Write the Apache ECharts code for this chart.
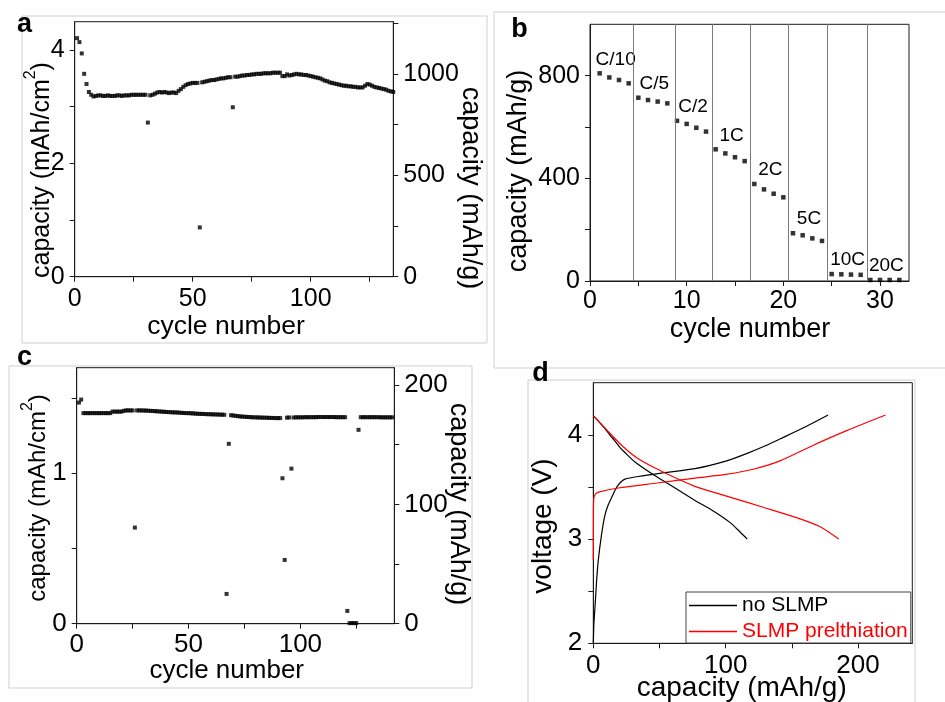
<!DOCTYPE html>
<html><head><meta charset="utf-8">
<script src="https://cdn.jsdelivr.net/npm/echarts@6.0.0/dist/echarts.min.js"></script>
<style>html,body{margin:0;padding:0;background:#fff}#chart{width:945px;height:702px}</style>
</head><body><div id="chart"></div>
<script>
const FONT = '"Liberation Sans", Arial, Helvetica, sans-serif';

// ---------- Panel a : areal capacity per cycle (cycle = index + 1) ----------
const capA = [
 4.21,4.14,3.94,3.58,3.40,3.26,3.21,3.18,3.19,3.20,
 3.20,3.19,3.19,3.20,3.19,3.19,3.19,3.20,3.20,3.19,
 3.20,3.20,3.20,3.21,3.21,3.21,3.21,3.21,3.21,3.21,
 2.72,3.20,3.21,3.23,3.25,3.26,3.25,3.26,3.25,3.24,
 3.25,3.25,3.24,3.28,3.31,3.35,3.38,3.40,3.41,3.42,
 3.42,3.42,0.87,3.43,3.44,3.45,3.46,3.47,3.47,3.48,
 3.49,3.50,3.50,3.51,3.52,3.52,2.99,3.53,3.53,3.54,
 3.55,3.55,3.56,3.56,3.57,3.57,3.58,3.58,3.58,3.59,
 3.59,3.59,3.59,3.60,3.60,3.60,3.60,3.54,3.54,3.57,
 3.55,3.56,3.57,3.58,3.57,3.57,3.56,3.56,3.55,3.54,
 3.53,3.52,3.51,3.50,3.48,3.46,3.45,3.43,3.42,3.41,
 3.40,3.39,3.38,3.37,3.37,3.36,3.36,3.35,3.35,3.34,
 3.34,3.34,3.37,3.40,3.39,3.37,3.35,3.34,3.33,3.32,
 3.31,3.30,3.28,3.27,3.26
];
const aXTicks = [0,25,50,75,100,125];
const aXLabels = [0,50,100];
const aYTicks = [0,1,2,3,4];
const aYLabels = [0,2,4];
const aY2Ticks = [0,250,500,750,1000,1250];
const aY2Labels = [0,500,1000];

// ---------- Panel b : rate capability (cycle = index + 1, 4 cycles per rate) ----------
const capB = [
 809,793,783,770,
 714,705,699,692,
 624,612,597,582,
 513,497,482,467,
 378,357,340,326,
 186,178,166,156,
 27,26,25,24,
 4,4,4,4
];
const rateLabels = ['C/10','C/5','C/2','1C','2C','5C','10C','20C'];
const rateDividers = [4.5,8.8,12.6,16.6,20.5,24.5,28.7];
const bXTicks = [0,5,10,15,20,25,30];
const bXLabels = [0,10,20,30];
const bYTicks = [0,200,400,600,800];
const bYLabels = [0,400,800];

// ---------- Panel c : areal capacity per cycle (cycle = index + 1) ----------
const capC = [
 1.47,1.49,1.40,1.40,1.40,1.40,1.40,1.40,1.40,1.40,
 1.40,1.40,1.40,1.40,1.40,1.41,1.41,1.41,1.41,1.41,
 1.415,1.418,1.418,1.418,1.418,0.639,1.418,1.418,1.418,1.417,
 1.417,1.416,1.415,1.414,1.413,1.412,1.411,1.410,1.409,1.408,
 1.407,1.406,1.405,1.405,1.404,1.403,1.402,1.401,1.400,1.400,
 1.399,1.398,1.397,1.396,1.395,1.395,1.394,1.393,1.393,1.392,
 1.392,1.391,1.391,1.390,1.390,1.389,0.198,1.196,1.386,1.384,
 1.382,1.380,1.378,1.377,1.376,1.375,1.374,1.373,1.372,1.372,
 1.371,1.371,1.370,1.370,1.369,1.369,1.368,1.368,1.367,1.367,
 1.367,0.967,0.424,1.370,1.371,1.031,1.371,1.372,1.372,1.372,
 1.372,1.373,1.373,1.373,1.373,1.373,1.373,1.374,1.374,1.374,
 1.374,1.374,1.374,1.374,1.374,1.373,1.373,1.373,1.373,1.373,
 0.085,0.004,0.004,0.004,0.004,1.289,1.373,1.373,1.373,1.373,
 1.373,1.373,1.373,1.373,1.373,1.372,1.372,1.372,1.372,1.372,
 1.372
];
const cXTicks = [0,25,50,75,100,125];
const cXLabels = [0,50,100];
const cYTicks = [0,0.5,1,1.5];
const cYLabels = [0,1];
const cY2Ticks = [0,50,100,150,200];
const cY2Labels = [0,100,200];

// ---------- Panel d : voltage profiles [capacity, voltage] ----------
const noSlmpCharge = [[0,2.0],[0.5,2.2],[1.3,2.35],[2.5,2.6],[3.8,2.8],[6.3,3.05],[8.8,3.23],[11,3.32],[13.9,3.40],[16.5,3.47],[18.9,3.52],[21.5,3.555],[23.9,3.575],[34,3.60],[50,3.63],[76.8,3.675],[100.7,3.75],[115.8,3.82],[130,3.895],[141,3.96],[160,4.075],[177.4,4.19]];
const noSlmpDischarge = [[0,4.185],[8.8,4.06],[13,3.99],[16.4,3.94],[20,3.88],[23.9,3.83],[31.5,3.74],[44,3.63],[56.6,3.53],[76.8,3.37],[90.6,3.27],[103.2,3.16],[110.7,3.07],[116.3,3.0]];
const slmpCharge = [[0,2.8],[0.1,3.2],[0.3,3.38],[1.5,3.43],[4,3.45],[18.9,3.49],[50,3.54],[76.8,3.585],[100,3.62],[120.8,3.67],[141,3.75],[166.2,3.90],[191.4,4.04],[220.8,4.19]];
const slmpDischarge = [[0,4.185],[10,4.05],[21.4,3.90],[34,3.77],[51.6,3.65],[76.8,3.505],[90.6,3.45],[105.7,3.393],[128.3,3.305],[153.5,3.205],[171,3.12],[185.4,3.0]];
const dXTicks = [0,50,100,150,200];
const dXLabels = [0,100,200];
const dYTicks = [2,2.5,3,3.5,4];
const dYLabels = [2,3,4];
const legendNames = ['no SLMP','SLMP prelthiation'];

// ---------- helpers ----------
const AX = '#1a1a1a';
function axis(gridIndex, position, min, max, ticks, labels, fontSize, margin) {
  return {
    type: 'value', gridIndex, position, min, max,
    axisLine: {show: true, onZero: false, lineStyle: {color: AX, width: 1}},
    axisTick: {show: true, inside: false, length: 5, customValues: ticks, lineStyle: {color: AX, width: 1}},
    axisLabel: {show: true, customValues: labels, margin, color: '#000', fontSize, fontFamily: FONT,
                formatter: v => String(v)},
    splitLine: {show: false}, minorTick: {show: false}, minorSplitLine: {show: false}
  };
}
function gridBox(left, top, width, height) {
  return {left, top, width, height, show: true, borderColor: AX, borderWidth: 1,
          backgroundColor: 'transparent', containLabel: false, outerBoundsMode: 'none'};
}
function txt(x, y, text, fontSize, rotation, weight) {
  return {type: 'text', x, y, rotation: rotation || 0, silent: true,
    style: {text, fontSize, fontWeight: weight || 'normal', fontFamily: FONT, fill: '#000',
            align: 'center', verticalAlign: 'middle'}};
}
function supTxt(x, y, base, sup, tail, fontSize, rotation) {
  return {type: 'text', x, y, rotation, silent: true,
    style: {text: '{n|' + base + '}{s|' + sup + '}{n|' + tail + '}', align: 'center', verticalAlign: 'middle',
      rich: {n: {fontSize, fontFamily: FONT, fill: '#000', lineHeight: fontSize + 13},
             s: {fontSize: 16, fontFamily: FONT, fill: '#000', verticalAlign: 'top', lineHeight: 16}}}};
}
function frame(x, y, w, h) {
  return {type: 'rect', silent: true, shape: {x, y, width: w, height: h},
          style: {fill: 'none', stroke: '#cfcfcf', lineWidth: 1}, z: -1};
}
function curve(name, data, color) {
  return {type: 'line', name, xAxisIndex: 3, yAxisIndex: 5, data, symbol: 'none', silent: true,
          smooth: 0.25, lineStyle: {color, width: 1.2}, itemStyle: {color}};
}

const chart = echarts.init(document.getElementById('chart'), null, {renderer: 'canvas'});
chart.setOption({
  animation: false,
  backgroundColor: '#fff',
  textStyle: {fontFamily: FONT},
  grid: [
    gridBox(74.7, 21.7, 318.6, 255),
    gridBox(590, 24.3, 319, 256.7),
    gridBox(76.7, 367.7, 317.6, 256),
    gridBox(593.3, 382.7, 319, 260.6)
  ],
  xAxis: [
    axis(0, 'bottom', 0, 135, aXTicks, aXLabels, 25, 10),
    axis(1, 'bottom', 0, 33, bXTicks, bXLabels, 25, 8),
    axis(2, 'bottom', 0, 142, cXTicks, cXLabels, 26, 8),
    axis(3, 'bottom', 0, 241, dXTicks, dXLabels, 26, 10)
  ],
  yAxis: [
    axis(0, 'left', 0, 4.5, aYTicks, aYLabels, 25, 10),
    axis(0, 'right', 0, 1258, aY2Ticks, aY2Labels, 25, 10),
    axis(1, 'left', 0, 1000, bYTicks, bYLabels, 25, 10),
    axis(2, 'left', 0, 1.702, cYTicks, cYLabels, 26, 10),
    axis(2, 'right', 0, 214.5, cY2Ticks, cY2Labels, 26, 10),
    axis(3, 'left', 2, 4.5, dYTicks, dYLabels, 26, 11)
  ],
  legend: {
    data: [
      {name: legendNames[0], textStyle: {color: '#000'}},
      {name: legendNames[1], textStyle: {color: '#ff0000'}}
    ],
    icon: 'rect',
    orient: 'vertical', left: 686, top: 592, itemWidth: 48, itemHeight: 1.3, itemGap: 5,
    padding: [3, 3, 1, 3], borderColor: '#444', borderWidth: 1, backgroundColor: '#fff',
    selectedMode: false, textStyle: {fontSize: 21, fontFamily: FONT, lineHeight: 21}
  },
  series: [
    {type: 'scatter', xAxisIndex: 0, yAxisIndex: 0, symbol: 'rect', symbolSize: 4, silent: true,
     itemStyle: {color: '#000'}, data: capA.map((v, i) => [i + 1, v])},
    {type: 'scatter', xAxisIndex: 1, yAxisIndex: 2, symbol: 'rect', symbolSize: 4.5, silent: true,
     itemStyle: {color: '#000'},
     data: capB.map((v, i) => i % 4 === 0
        ? {value: [i + 1, v], label: {show: true, formatter: rateLabels[i / 4], position: 'inside', offset: [16, -14],
            fontSize: 19, color: '#000', textBorderWidth: 0, opacity: 1, fontFamily: FONT}}
        : [i + 1, v]),
     markLine: {silent: true, symbol: ['none', 'none'], label: {show: false},
       lineStyle: {color: '#7a7a7a', width: 1, type: 'solid'},
       data: rateDividers.map(x => ({xAxis: x}))}},
    {type: 'scatter', xAxisIndex: 2, yAxisIndex: 3, symbol: 'rect', symbolSize: 4, silent: true,
     itemStyle: {color: '#000'}, data: capC.map((v, i) => [i + 1, v])},
    curve(legendNames[0], noSlmpCharge, '#000'),
    curve(legendNames[0], noSlmpDischarge, '#000'),
    curve(legendNames[1], slmpCharge, '#ff0000'),
    curve(legendNames[1], slmpDischarge, '#ff0000')
  ],
  graphic: {elements: [
    frame(22, 16, 465, 327),
    frame(494, 12, 460, 356),
    frame(9, 366, 463, 322),
    frame(528, 380, 387, 330),
    txt(24.5, 25, 'a', 27, 0, 'bold'),
    txt(519.5, 30, 'b', 27, 0, 'bold'),
    txt(24.5, 358, 'c', 27, 0, 'bold'),
    txt(540.5, 374, 'd', 27, 0, 'bold'),
    supTxt(41.7, 170, 'capacity (mAh/cm', '2', ')', 25, Math.PI / 2),
    txt(226, 327, 'cycle number', 26.5, 0),
    txt(470, 188, 'capacity (mAh/g)', 27, -Math.PI / 2),
    txt(518.3, 171, 'capacity (mAh/g)', 27, Math.PI / 2),
    txt(750, 330, 'cycle number', 27, 0),
    supTxt(38.3, 498, 'capacity (mAh/cm', '2', ')', 24, Math.PI / 2),
    txt(226.7, 671, 'cycle number', 26, 0),
    txt(458.3, 504, 'capacity (mAh/g)', 27, -Math.PI / 2),
    txt(543.3, 526, 'voltage (V)', 28, Math.PI / 2),
    txt(741.7, 688, 'capacity (mAh/g)', 28, 0)
  ]}
});
</script></body></html>
